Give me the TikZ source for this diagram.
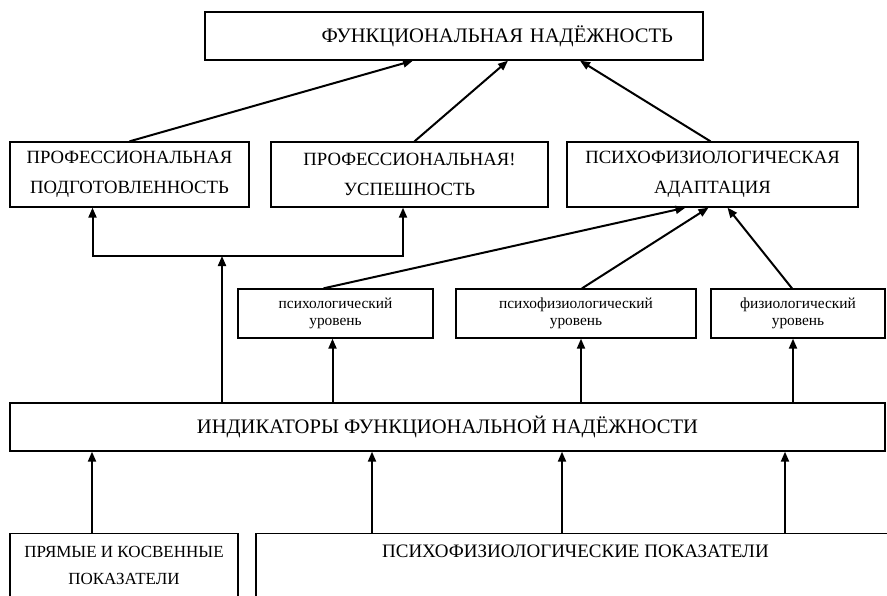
\documentclass[tikz,border=0pt]{standalone}
\usepackage{fontspec}
\setmainfont{Liberation Serif}
\usetikzlibrary{arrows.meta}

\tikzset{
  blok/.style={draw,line width=1.3pt,align=center,inner sep=0pt},
  big/.style={font=\fontsize{20.6}{24}\selectfont},
  mid/.style={font=\fontsize{18.7}{30}\selectfont},
  low/.style={font=\fontsize{17}{27}\selectfont},
  small/.style={font=\fontsize{15.4}{17}\selectfont},
}

\begin{document}
\begin{tikzpicture}[x=1pt,y=-1pt,line width=2pt,>={Triangle[length=10pt,width=8pt]}]
\useasboundingbox[fill=white] (0,0) rectangle (887,595);

\node[blok,big,minimum width=498,minimum height=48,text width=438,align=right] (fn) at (454,36) {ФУНКЦИОНАЛЬНАЯ НАДЁЖНОСТЬ};

\node[blok,mid,minimum width=239,minimum height=65] (pp) at (129.5,174.5) {ПРОФЕССИОНАЛЬНАЯ\\ПОДГОТОВЛЕННОСТЬ};
\node[blok,mid,minimum width=277,minimum height=65] (pu) at (409.5,174.5) {ПРОФЕССИОНАЛЬНАЯ!\\УСПЕШНОСТЬ};
\node[blok,mid,minimum width=291,minimum height=65] (pa) at (712.5,174.5) {ПСИХОФИЗИОЛОГИЧЕСКАЯ\\АДАПТАЦИЯ};

\node[blok,small,minimum width=195,minimum height=49] (ur1) at (335.5,313.5) {психологический\\уровень};
\node[blok,small,minimum width=240,minimum height=49] (ur2) at (576,313.5) {психофизиологический\\уровень};
\node[blok,small,minimum width=174,minimum height=49] (ur3) at (798,313.5) {физиологический\\уровень};

\node[blok,big,minimum width=875,minimum height=48] (ind) at (447.5,427) {ИНДИКАТОРЫ ФУНКЦИОНАЛЬНОЙ НАДЁЖНОСТИ};

\node[blok,low,minimum width=228,anchor=north,inner ysep=12pt,text height=39pt,text depth=30pt] (pk) at (124,533) {ПРЯМЫЕ И КОСВЕННЫЕ\\ПОКАЗАТЕЛИ};
\node[blok,low,font=\fontsize{19}{27}\selectfont,minimum width=639,anchor=north,inner ysep=12pt,text height=12pt,text depth=50pt] (ps) at (575.5,533) {ПСИХОФИЗИОЛОГИЧЕСКИЕ ПОКАЗАТЕЛИ};

\path[->]
    (pp.north) edge ([xshift=-41]fn.south)
    ([xshift=5]pu.north) edge ([xshift=54]fn.south)
    ([xshift=-2]pa.north) edge ([xshift=126]fn.south);

\coordinate (split) at (222,256);
\draw[->] (ind.north -| split) -- (split);
\draw[<->] ([xshift=-37]pp.south) |- (split) -| ([xshift=-6.5]pu.south);

\path[->]
    ([xshift=-12]ur1.north) edge ([xshift=-27]pa.south)
    ([xshift=6]ur2.north) edge ([xshift=-4]pa.south)
    ([xshift=-6]ur3.north) edge ([xshift=15]pa.south);

\path[->]
    ([xshift=-3]ur1.south |- ind.north) edge ([xshift=-3]ur1.south)
    ([xshift=5]ur2.south |- ind.north) edge ([xshift=5]ur2.south)
    ([xshift=-5]ur3.south |- ind.north) edge ([xshift=-5]ur3.south);

\path[->]
    ([xshift=-32]pk.north) edge ([xshift=-32]pk.north |- ind.south)
    ([xshift=-203.5]ps.north) edge ([xshift=-203.5]ps.north |- ind.south)
    ([xshift=-13.5]ps.north) edge ([xshift=-13.5]ps.north |- ind.south)
    ([xshift=209.5]ps.north) edge ([xshift=209.5]ps.north |- ind.south);
\end{tikzpicture}
\end{document}
